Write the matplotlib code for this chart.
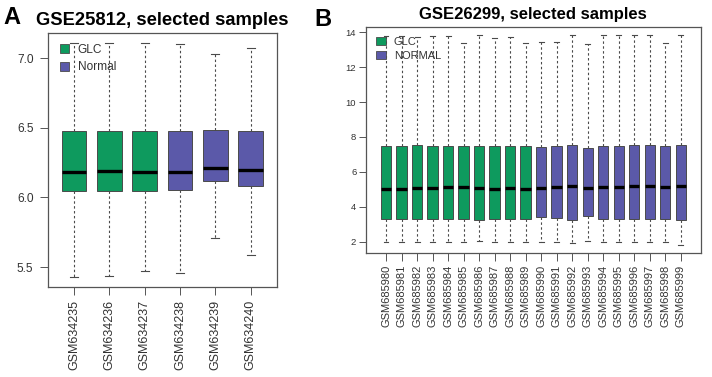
import matplotlib
matplotlib.use("Agg")
import matplotlib.pyplot as plt
from matplotlib.patches import Patch

plt.rcParams['font.family'] = ['Liberation Sans', 'DejaVu Sans']

# ---- Panel A data ----
a_samples = ["GSM634235", "GSM634236", "GSM634237", "GSM634238", "GSM634239", "GSM634240"]
a_group = ["GLC", "GLC", "GLC", "Normal", "Normal", "Normal"]
a_whislo = [5.43, 5.44, 5.47, 5.46, 5.71, 5.59]
a_q1 = [6.05, 6.05, 6.05, 6.057, 6.115, 6.08]
a_med = [6.182, 6.187, 6.182, 6.18, 6.215, 6.194]
a_q3 = [6.478, 6.478, 6.478, 6.478, 6.486, 6.478]
a_whishi = [7.11, 7.11, 7.11, 7.10, 7.03, 7.07]

# ---- Panel B data ----
b_samples = ["GSM6859%02d" % i for i in range(80, 100)]
b_group = ["GLC"] * 10 + ["NORMAL"] * 10
b_whislo = [1.98, 1.99, 1.99, 2.00, 1.99, 1.95, 2.04, 1.95, 2.00, 2.00,
            1.98, 1.99, 1.91, 2.02, 2.00, 1.98, 1.95, 1.98, 1.99, 1.81]
b_q1 = [3.31, 3.31, 3.27, 3.30, 3.30, 3.29, 3.25, 3.31, 3.30, 3.30,
        3.39, 3.34, 3.23, 3.46, 3.28, 3.28, 3.28, 3.29, 3.29, 3.26]
b_med = [5.04, 5.04, 5.09, 5.10, 5.13, 5.12, 5.10, 5.04, 5.08, 5.03,
         5.08, 5.13, 5.16, 5.09, 5.11, 5.12, 5.16, 5.17, 5.13, 5.19]
b_q3 = [7.48, 7.48, 7.51, 7.48, 7.48, 7.48, 7.48, 7.48, 7.48, 7.48,
        7.43, 7.48, 7.52, 7.39, 7.50, 7.50, 7.52, 7.52, 7.49, 7.56]
b_whishi = [13.78, 13.78, 13.75, 13.79, 13.79, 13.40, 13.83, 13.67, 13.75, 13.40,
            13.44, 13.44, 13.83, 13.31, 13.83, 13.83, 13.86, 13.83, 13.40, 13.83]

GREEN = "#0E9A5E"
PURPLE = "#5B59A9"
EDGE = "#4a4a4a"
colors = {"GLC": GREEN, "Normal": PURPLE, "NORMAL": PURPLE}


def draw(ax, samples, groups, lo, q1, med, q3, hi, width, capw):
    stats = []
    for i in range(len(samples)):
        stats.append(dict(label=samples[i], whislo=lo[i], q1=q1[i], med=med[i],
                          q3=q3[i], whishi=hi[i], fliers=[]))
    bp = ax.bxp(stats, positions=list(range(1, len(samples) + 1)), widths=width,
                patch_artist=True, showfliers=False, capwidths=capw,
                boxprops=dict(edgecolor=EDGE, linewidth=0.7),
                whiskerprops=dict(color=EDGE, linestyle=(0, (2.2, 2.2)), linewidth=0.8),
                capprops=dict(color=EDGE, linewidth=0.8),
                medianprops=dict(color="black", linewidth=2.4, solid_capstyle="butt"))
    for patch, g in zip(bp["boxes"], groups):
        patch.set_facecolor(colors[g])
    for s in ax.spines.values():
        s.set_color("#555555")
        s.set_linewidth(0.9)
    ax.tick_params(axis="both", colors="#555555", length=5.5, width=0.7,
                   labelcolor="#333333")
    ax.set_xticks(range(1, len(samples) + 1))
    ax.set_xticklabels(samples, rotation=90)


fig = plt.figure(figsize=(7.12, 3.77), dpi=100)

# Panel A
axA = fig.add_axes([48 / 712, 1 - 286.7 / 377, 229 / 712, (286.7 - 33) / 377])
draw(axA, a_samples, a_group, a_whislo, a_q1, a_med, a_q3, a_whishi, 0.7, 0.23)
axA.set_xlim(0.264, 6.744)
axA.set_ylim(5.36, 7.18)
axA.set_yticks([5.5, 6.0, 6.5, 7.0])
axA.set_yticklabels(["5.5", "6.0", "6.5", "7.0"])
axA.tick_params(axis="y", labelsize=8.6, pad=5)
axA.tick_params(axis="x", labelsize=9.0, pad=4)
axA.set_title("GSE25812, selected samples", fontsize=13.2, fontweight="bold", pad=5.8)
axA.legend(handles=[Patch(facecolor=GREEN, edgecolor=EDGE, linewidth=0.6, label="GLC"),
                    Patch(facecolor=PURPLE, edgecolor=EDGE, linewidth=0.6, label="Normal")],
           loc="upper left", bbox_to_anchor=(0.02, 0.985), frameon=False,
           fontsize=8.6, handlelength=0.8, handleheight=0.8, handletextpad=0.7,
           labelspacing=0.45, borderaxespad=0.2, labelcolor="#333333")

# Panel B
axB = fig.add_axes([366 / 712, 1 - 253.3 / 377, 334.7 / 712, (253.3 - 26.7) / 377])
draw(axB, b_samples, b_group, b_whislo, b_q1, b_med, b_q3, b_whishi, 0.66, 0.32)
axB.set_xlim(-0.29, 21.29)
axB.set_ylim(1.33, 14.32)
axB.set_yticks([2, 4, 6, 8, 10, 12, 14])
axB.set_yticklabels(["2", "4", "6", "8", "10", "12", "14"])
axB.tick_params(axis="y", labelsize=6.8, pad=2, length=5)
axB.tick_params(axis="x", labelsize=8.0, pad=3)
axB.set_title("GSE26299, selected samples", fontsize=12.0, fontweight="bold", pad=5.5)
axB.legend(handles=[Patch(facecolor=GREEN, edgecolor=EDGE, linewidth=0.6, label="GLC"),
                    Patch(facecolor=PURPLE, edgecolor=EDGE, linewidth=0.6, label="NORMAL")],
           loc="upper left", bbox_to_anchor=(0.01, 0.985), frameon=False,
           fontsize=8.0, handlelength=0.9, handleheight=0.8, handletextpad=0.7,
           labelspacing=0.35, borderaxespad=0.2, labelcolor="#333333")

# Panel letters
fig.text(3 / 712, 1 - 24.5 / 377, "A", fontsize=17, fontweight="bold", ha="left", va="baseline")
fig.text(314 / 712, 1 - 25.5 / 377, "B", fontsize=17, fontweight="bold", ha="left", va="baseline")

fig.savefig("out.png", dpi=100)
